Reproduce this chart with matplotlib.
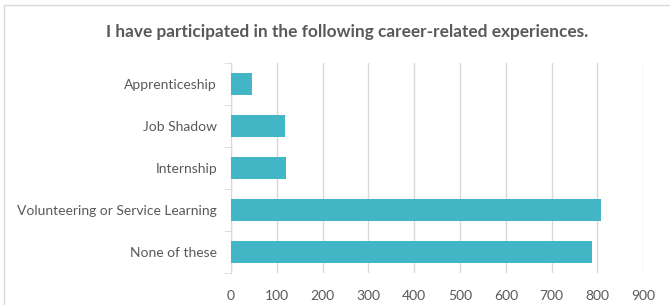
import matplotlib
matplotlib.use("Agg")
import matplotlib.pyplot as plt
from matplotlib.patches import Rectangle

categories = ["Apprenticeship", "Job Shadow", "Internship",
              "Volunteering or Service Learning", "None of these"]
counts = [45, 118, 119, 807, 787]
xticks = [0, 100, 200, 300, 400, 500, 600, 700, 800, 900]

plt.rcParams['font.family'] = ['Lato', 'DejaVu Sans']
text_color = '#595959'
bar_color = '#42B6C5'
grid_color = '#D9D9D9'

fig = plt.figure(figsize=(6.7, 3.05), dpi=100)
ax = fig.add_axes([231 / 670, 1 - 273 / 305, (643.3 - 231) / 670, 210 / 305])

# chart border
fig.patches.append(Rectangle((4 / 670, -0.1), 1.1, 1 - 5 / 305 + 0.1,
                             transform=fig.transFigure, fill=False,
                             edgecolor='#D9D9D9', linewidth=1))

pos = list(range(len(categories)))
ax.barh(pos, counts, height=0.52, color=bar_color, zorder=3)

ax.set_ylim(len(categories) - 0.5, -0.5)
ax.set_xlim(0, 900)
ax.set_xticks(xticks)
ax.set_yticks(pos)
ax.set_yticklabels(categories)
ax.set_yticks([p + 0.5 for p in [-1] + pos], minor=True)

ax.grid(axis='x', color=grid_color, linewidth=1, zorder=0)
for s in ['top', 'right', 'bottom']:
    ax.spines[s].set_visible(False)
ax.spines['left'].set_color(grid_color)

ax.tick_params(axis='x', length=0, labelsize=10, labelcolor=text_color, pad=12)
ax.tick_params(axis='y', which='major', length=0, labelsize=10,
               labelcolor=text_color, pad=10)
ax.tick_params(axis='y', which='minor', length=5, color=grid_color)

fig.text(347 / 670, 1 - 32 / 305, "I have participated in the following career-related experiences.",
         ha='center', va='center', fontsize=12.4, fontweight='bold', color=text_color)

fig.savefig("out.png", dpi=100)
